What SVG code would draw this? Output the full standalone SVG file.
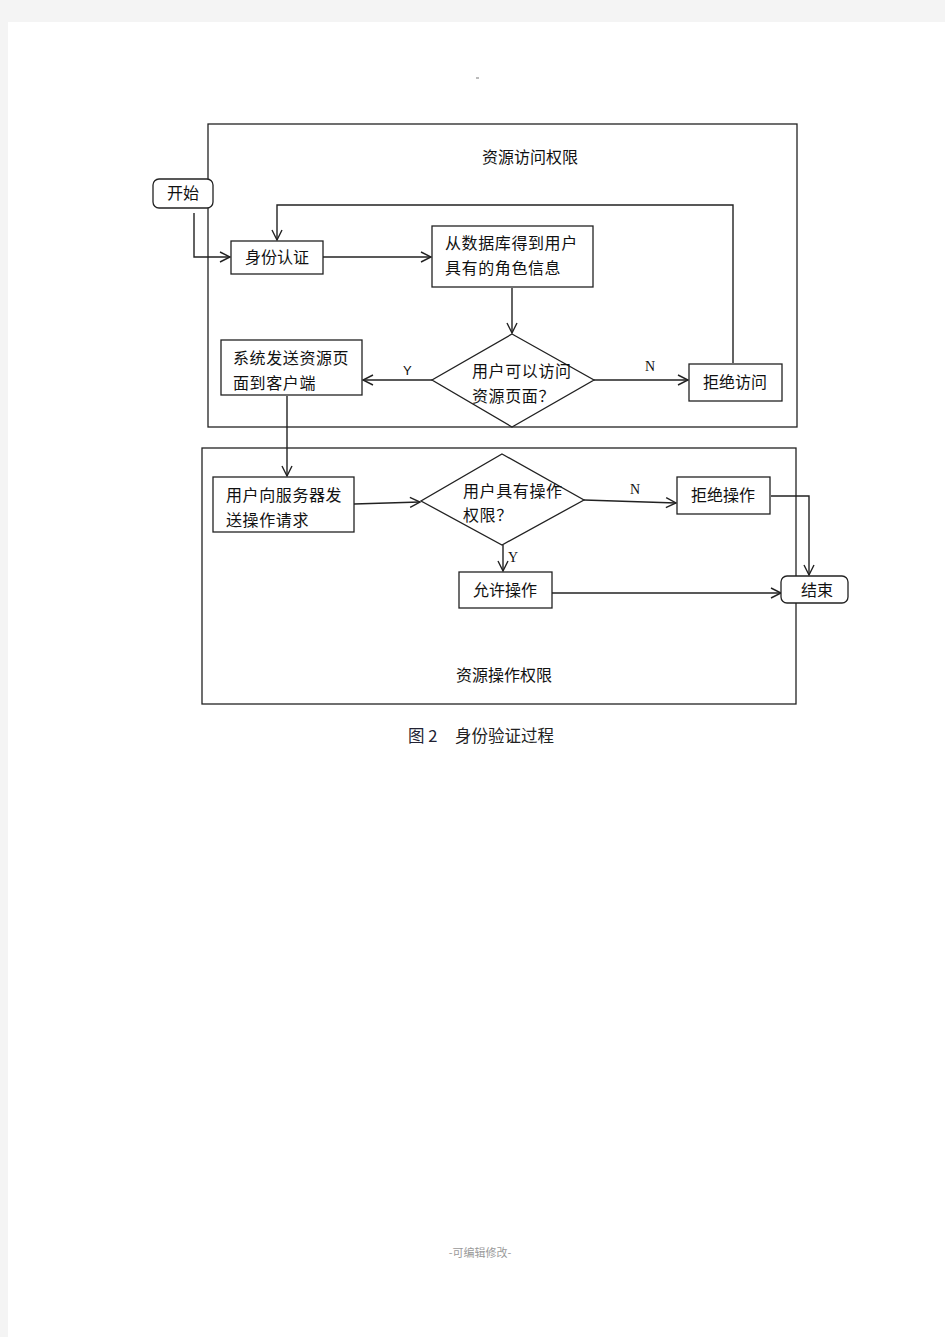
<svg xmlns="http://www.w3.org/2000/svg" width="945" height="1337" viewBox="0 0 945 1337">
<defs>
<style>
.frame{fill:none;stroke:#222;stroke-width:1.3}
.box{fill:#fff;stroke:#222;stroke-width:1.3}
.t{font-family:"Noto Sans CJK SC",sans-serif;font-size:16px;fill:#111}
.c{text-anchor:middle}
.lbl{font-family:"Liberation Serif",serif;font-size:14px;fill:#111}
.ln{fill:none;stroke:#222;stroke-width:1.4}
</style>
<marker id="arr" markerUnits="userSpaceOnUse" markerWidth="14" markerHeight="14" refX="11" refY="6" orient="auto">
<path d="M1,1 L11,6 L1,11" fill="none" stroke="#222" stroke-width="1.4"/>
</marker>
</defs>
<rect x="0" y="0" width="945" height="1337" fill="#f4f4f4"/>
<rect x="8" y="22" width="937" height="1315" fill="#fff"/>
<rect x="476" y="77" width="3" height="2" fill="#bbb"/>

<g id="frame1">
<rect class="frame" x="208" y="124" width="589" height="303"/>
<text class="t c" x="530" y="163">资源访问权限</text>
</g>
<g id="frame2">
<rect class="frame" x="202" y="448" width="594" height="256"/>
<text class="t c" x="504" y="681">资源操作权限</text>
</g>

<g id="connectors">
<polyline class="ln" points="194,213 194,257 230,257" marker-end="url(#arr)"/>
<line class="ln" x1="323" y1="257" x2="431" y2="257" marker-end="url(#arr)"/>
<line class="ln" x1="512" y1="288" x2="512" y2="333" marker-end="url(#arr)"/>
<line class="ln" x1="594" y1="380" x2="688" y2="380" marker-end="url(#arr)"/>
<polyline class="ln" points="733,363 733,205 277,205 277,240" marker-end="url(#arr)"/>
<line class="ln" x1="432" y1="380" x2="363" y2="380" marker-end="url(#arr)"/>
<line class="ln" x1="287" y1="396" x2="287" y2="476" marker-end="url(#arr)"/>
<line class="ln" x1="354" y1="504" x2="420" y2="502" marker-end="url(#arr)"/>
<line class="ln" x1="584" y1="500" x2="676" y2="503" marker-end="url(#arr)"/>
<polyline class="ln" points="771,496 809,496 809,575" marker-end="url(#arr)"/>
<line class="ln" x1="503" y1="545" x2="503" y2="571" marker-end="url(#arr)"/>
<line class="ln" x1="552" y1="593" x2="781" y2="593" marker-end="url(#arr)"/>
<text class="lbl" x="645" y="371">N</text>
<text x="403" y="375" style="font-family:'Liberation Sans',sans-serif;font-size:13px;fill:#111">Y</text>
<text class="lbl" x="630" y="494">N</text>
<text class="lbl" x="508" y="562">Y</text>
</g>

<g id="start">
<rect class="box" x="153" y="179" width="60" height="29" rx="6"/>
<text class="t c" x="183" y="199">开始</text>
</g>
<g id="auth">
<rect class="box" x="231" y="241" width="92" height="33"/>
<text class="t c" x="277" y="263">身份认证</text>
</g>
<g id="getrole">
<rect class="box" x="432" y="226" width="161" height="61"/>
<text class="t" x="445" y="249" letter-spacing="0.6">从数据库得到用户</text>
<text class="t" x="445" y="274" letter-spacing="0.6">具有的角色信息</text>
</g>
<g id="canaccess">
<polygon class="box" points="512,334 594,380 512,427 432,380"/>
<text class="t" x="472" y="377" letter-spacing="0.6">用户可以访问</text>
<text class="t" x="472" y="402" letter-spacing="0.6">资源页面？</text>
</g>
<g id="deny">
<rect class="box" x="689" y="364" width="93" height="37"/>
<text class="t c" x="735" y="388">拒绝访问</text>
</g>
<g id="sendpage">
<rect class="box" x="221" y="340" width="141" height="55"/>
<text class="t" x="233" y="364" letter-spacing="0.6">系统发送资源页</text>
<text class="t" x="233" y="389" letter-spacing="0.6">面到客户端</text>
</g>
<g id="request">
<rect class="box" x="213" y="477" width="141" height="55"/>
<text class="t" x="226" y="501" letter-spacing="0.6">用户向服务器发</text>
<text class="t" x="226" y="526" letter-spacing="0.6">送操作请求</text>
</g>
<g id="hasperm">
<polygon class="box" points="502,454 584,500 502,545 421,501"/>
<text class="t" x="463" y="497" letter-spacing="0.6">用户具有操作</text>
<text class="t" x="463" y="521" letter-spacing="0.6">权限？</text>
</g>
<g id="denyop">
<rect class="box" x="677" y="477" width="93" height="37"/>
<text class="t c" x="723" y="501">拒绝操作</text>
</g>
<g id="allow">
<rect class="box" x="459" y="572" width="93" height="36"/>
<text class="t c" x="505" y="596">允许操作</text>
</g>
<g id="end">
<rect class="box" x="781" y="576" width="67" height="27" rx="6"/>
<text class="t c" x="817" y="596">结束</text>
</g>

<g id="caption">
<text x="408" y="742" style="font-family:'Noto Sans CJK SC',sans-serif;font-size:16.5px;fill:#223">图 2</text>
<text x="455" y="742" style="font-family:'Noto Sans CJK SC',sans-serif;font-size:16.5px;fill:#222">身份验证过程</text>
</g>
<text x="480" y="1257" text-anchor="middle" style="font-family:'Noto Sans CJK SC',sans-serif;font-size:11px;fill:#999">-可编辑修改-</text>
</svg>
